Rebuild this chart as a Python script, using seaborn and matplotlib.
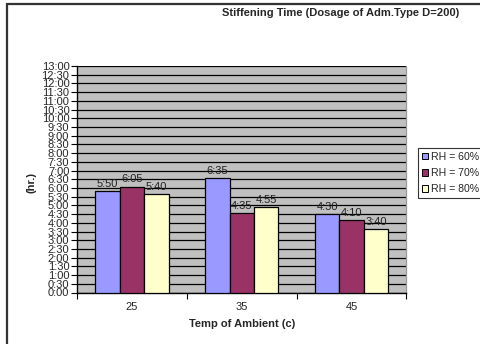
import matplotlib
matplotlib.use("Agg")
import matplotlib.pyplot as plt
from matplotlib.patches import Rectangle, Patch
from matplotlib.ticker import FixedLocator
import numpy as np
import pandas as pd
import seaborn as sns

# Stiffening time (hours) per ambient temperature and relative humidity
temps = ["25", "35", "45"]
humidity = ["RH = 60%", "RH = 70%", "RH = 80%"]
rh60 = [5 + 50 / 60, 6 + 35 / 60, 4 + 30 / 60]
rh70 = [6 + 5 / 60, 4 + 35 / 60, 4 + 10 / 60]
rh80 = [5 + 40 / 60, 4 + 55 / 60, 3 + 40 / 60]
value_labels = [["5:50", "6:35", "4:30"],
                ["6:05", "4:35", "4:10"],
                ["5:40", "4:55", "3:40"]]
colors = ["#9999FF", "#993366", "#FFFFCC"]

df = pd.DataFrame({
    "temp": temps * 3,
    "rh": [humidity[0]] * 3 + [humidity[1]] * 3 + [humidity[2]] * 3,
    "hours": rh60 + rh70 + rh80,
})

sns.set_theme(style="white")
plt.rcParams["font.family"] = ["Liberation Sans", "DejaVu Sans"]

W, H = 481, 344
fig = plt.figure(figsize=(W / 100, H / 100), dpi=100)
ax = fig.add_axes([77 / W, 1 - 292.5 / H, (406.5 - 77) / W, (292.5 - 66) / H])

sns.barplot(data=df, x="temp", y="hours", hue="rh", order=temps,
            hue_order=humidity, palette=colors, width=0.667, gap=0,
            edgecolor="black", linewidth=0.9, saturation=1,
            legend=False, ax=ax, zorder=3)

for cont, labs in zip(ax.containers, value_labels):
    ax.bar_label(cont, labels=labs, fontsize=8, padding=1.5, color="#222222")

# gray plot area with black half-hour grid
ax.set_facecolor("#C0C0C0")
yt = np.arange(0, 13.01, 0.5)
ax.set_ylim(0, 13)
ax.set_yticks(yt)
ax.set_yticklabels([f"{int(v)}:{int(round((v % 1) * 60)):02d}" for v in yt])
ax.yaxis.grid(True, color="black", linewidth=0.9)
ax.set_axisbelow(True)

ax.set_xlim(-0.5, 2.5)
ax.xaxis.set_minor_locator(FixedLocator([-0.5, 0.5, 1.5, 2.5]))
ax.tick_params(axis="x", which="major", length=0, pad=7, labelsize=8)
ax.tick_params(axis="x", which="minor", length=4, width=0.8, color="black",
               direction="out", bottom=True)
ax.tick_params(axis="y", length=4, width=0.8, color="black", direction="out",
               left=True, pad=1.5, labelsize=8)
ax.set_xlabel("")
ax.set_ylabel("")

for side in ["left", "bottom"]:
    ax.spines[side].set_color("black")
    ax.spines[side].set_linewidth(1.0)
ax.spines["right"].set_color("#9a9a9a")
ax.spines["right"].set_linewidth(0.9)
ax.spines["top"].set_visible(False)

# legend
handles = [Patch(facecolor=c, edgecolor="black", linewidth=0.7) for c in colors]
leg = fig.legend(handles, humidity, loc="center left",
                 bbox_to_anchor=(418 / W, 1 - 173 / H),
                 fontsize=7.6, frameon=True, fancybox=False,
                 handlelength=0.6, handleheight=0.6, handletextpad=0.3,
                 borderpad=0.35, labelspacing=0.6, borderaxespad=0)
leg.get_frame().set_edgecolor("black")
leg.get_frame().set_linewidth(0.8)

fig.text(341 / W, 1 - 13 / H, "Stiffening Time (Dosage of Adm.Type D=200)",
         ha="center", va="center", fontsize=8, fontweight="bold")
fig.text(32 / W, 1 - 182 / H, "(hr.)", ha="center", va="center",
         rotation=90, fontsize=8, fontweight="bold")
fig.text(242 / W, 1 - 324 / H, "Temp of Ambient (c)", ha="center",
         va="center", fontsize=8, fontweight="bold")

# outer chart frame
fig.patches.append(Rectangle((7.5 / W, -0.05), 1.1, 1 - 3.5 / H + 0.05,
                             transform=fig.transFigure, fill=False,
                             edgecolor="#333333", linewidth=1.6))

fig.savefig("out.png", dpi=100)
